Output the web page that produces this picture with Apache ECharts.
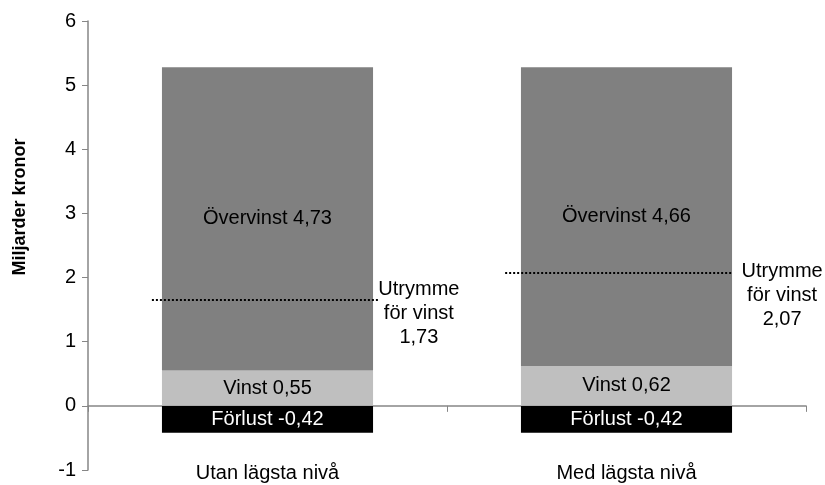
<!DOCTYPE html>
<html><head><meta charset="utf-8">
<script src="https://cdn.jsdelivr.net/npm/echarts@6/dist/echarts.min.js"></script>
<style>html,body{margin:0;padding:0;background:#fff}#c{width:825px;height:485px}</style>
</head><body><div id="c"></div>
<script>
var categories = ['Utan lägsta nivå', 'Med lägsta nivå'];
var forlust = [-0.42, -0.42];
var vinst = [0.55, 0.62];
var overvinst = [4.73, 4.66];
var utrymmeValues = [1.73, 2.07];
var utrymmeLineLevel = [1.65, 2.07];
var utrymmeStart = [0.178, 1.162];
var utrymmeEnd = [0.813, 1.797];
var yTicks = [-1, 0, 1, 2, 3, 4, 5, 6];
var yAxisTitle = 'Miljarder kronor';

var FONT = 'Liberation Sans';
function fmt(v){ return String(v.toFixed(2)).replace('.', ','); }

var chart = echarts.init(document.getElementById('c'), null, {renderer:'canvas'});
var labelOffsets = [[39, 13], [49, 22]];
var lineSeries = utrymmeValues.map(function(v, i){
  return {
    type:'line', xAxisIndex:1, yAxisIndex:0, silent:true,
    symbol:'none',
    data:[[utrymmeStart[i], utrymmeLineLevel[i]], [utrymmeEnd[i], utrymmeLineLevel[i]]],
    lineStyle:{color:'#000', width:2, type:[2,2]},
    endLabel:{show:true, formatter:'Utrymme\nför vinst\n' + fmt(v), align:'center', verticalAlign:'middle',
      distance:0, offset:labelOffsets[i], fontFamily:FONT, fontSize:20, lineHeight:24, color:'#000'},
    z:5
  };
});

chart.setOption({
  animation:false,
  textStyle:{fontFamily:FONT},
  grid:{left:88, right:19, top:21, bottom:15, containLabel:false, outerBoundsMode:'none'},
  graphic:[{
    type:'text', x:20, y:207, rotation:Math.PI/2,
    style:{text:yAxisTitle, fill:'#000', font:'bold 18px "Liberation Sans"', align:'center', verticalAlign:'middle'}
  }],
  xAxis:[{
    type:'category', data:categories,
    axisLine:{onZero:true, lineStyle:{color:'#868686', width:1.5}},
    axisTick:{show:true, alignWithLabel:false, length:6, lineStyle:{color:'#868686'}},
    axisLabel:{margin:-7, fontSize:20, color:'#000', fontFamily:FONT},
    splitLine:{show:false}
  },{
    type:'value', min:0, max:2, show:false
  }],
  yAxis:[{
    type:'value', min:yTicks[0], max:yTicks[yTicks.length-1], interval:1,
    axisLine:{show:true, lineStyle:{color:'#868686', width:1.5}},
    axisTick:{show:true, length:6, lineStyle:{color:'#868686'}},
    axisLabel:{fontSize:20, color:'#000', margin:12, fontFamily:FONT,
      formatter:function(v){return String(v);}},
    splitLine:{show:false}
  }],
  series:[
    {name:'Förlust', type:'bar', stack:'a', data:forlust, barWidth:'58.8%',
     itemStyle:{color:'#000000'},
     label:{show:true, position:'inside', color:'#fff', fontSize:20, fontFamily:FONT,
       formatter:function(p){return 'Förlust ' + fmt(p.value);}}},
    {name:'Vinst', type:'bar', stack:'a', data:vinst, barWidth:'58.8%',
     itemStyle:{color:'#bfbfbf'},
     label:{show:true, position:'inside', color:'#000', fontSize:20, fontFamily:FONT,
       formatter:function(p){return 'Vinst ' + fmt(p.value);}}},
    {name:'Övervinst', type:'bar', stack:'a', data:overvinst, barWidth:'58.8%',
     itemStyle:{color:'#808080'},
     label:{show:true, position:'inside', color:'#000', fontSize:20, fontFamily:FONT,
       formatter:function(p){return 'Övervinst ' + fmt(p.value);}}}
  ].concat(lineSeries)
});
</script></body></html>
